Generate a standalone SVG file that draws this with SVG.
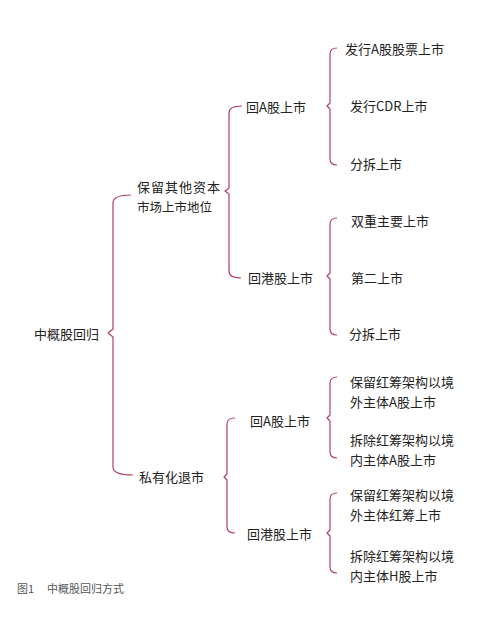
<svg xmlns="http://www.w3.org/2000/svg" width="500" height="620" viewBox="0 0 500 620">
<style>
text{font-family:"Noto Sans CJK SC","Liberation Sans",sans-serif;font-size:13px;fill:#222;dominant-baseline:central}
.b{fill:none;stroke:#b5405a;stroke-width:1.2;stroke-linejoin:round}
.cap{font-size:11px;fill:#555}
</style>
<rect width="500" height="620" fill="#fff"/>
<g id="connectors">
<path class="b" d="M131,195 Q113,195 113,203 L113,329 L108,333 L113,337 L113,467 Q113,475 133,475"/>
<path class="b" d="M242,106 Q229,106 229,113 L229,188 L225,191 L229,194 L229,271 Q229,278 241,278"/>
<path class="b" d="M337,48 Q330,48 330,54 L330,103 L327,106 L330,109 L330,159 Q330,165 337,165"/>
<path class="b" d="M337,218 Q330,218 330,224 L330,273 L327,276 L330,279 L330,329 Q330,335 337,335"/>
<path class="b" d="M235,418 Q227,418 227,424 L227,474 L224,477 L227,480 L227,527 Q227,533 235,533"/>
<path class="b" d="M337,377 Q330,377 330,383 L330,415 L327,418 L330,421 L330,452 Q330,458 337,458"/>
<path class="b" d="M337,493 Q330,493 330,499 L330,530 L327,533 L330,536 L330,567 Q330,573 337,573"/>
</g>
<g id="root"><text x="34" y="333">中概股回归</text></g>
<g id="n-keep"><text x="137" y="186"><tspan letter-spacing="1">保留其他资本</tspan><tspan x="137" dy="20" font-size="12.5" letter-spacing="0">市场上市地位</tspan></text></g>
<g id="n-private"><text x="139" y="476">私有化退市</text></g>
<g id="n-a1"><text x="246" y="106">回A股上市</text></g>
<g id="n-hk1"><text x="248" y="277">回港股上市</text></g>
<g id="n-a1-1"><text x="345" y="48">发行A股股票上市</text></g>
<g id="n-a1-2"><text x="350" y="105">发行CDR上市</text></g>
<g id="n-a1-3"><text x="350" y="163">分拆上市</text></g>
<g id="n-hk1-1"><text x="351" y="220">双重主要上市</text></g>
<g id="n-hk1-2"><text x="351" y="277">第二上市</text></g>
<g id="n-hk1-3"><text x="349" y="333">分拆上市</text></g>
<g id="n-a2"><text x="250" y="420">回A股上市</text></g>
<g id="n-hk2"><text x="247" y="533">回港股上市</text></g>
<g id="n-a2-1"><text x="350" y="381.5">保留红筹架构以境<tspan x="350" dy="19">外主体A股上市</tspan></text></g>
<g id="n-a2-2"><text x="350" y="439.5">拆除红筹架构以境<tspan x="350" dy="19">内主体A股上市</tspan></text></g>
<g id="n-hk2-1"><text x="350" y="494.5">保留红筹架构以境<tspan x="350" dy="19">外主体红筹上市</tspan></text></g>
<g id="n-hk2-2"><text x="350" y="555.5">拆除红筹架构以境<tspan x="350" dy="19">内主体H股上市</tspan></text></g>
<g id="caption"><text class="cap" x="17" y="588">图1<tspan x="47">中概股回归方式</tspan></text></g>
</svg>
